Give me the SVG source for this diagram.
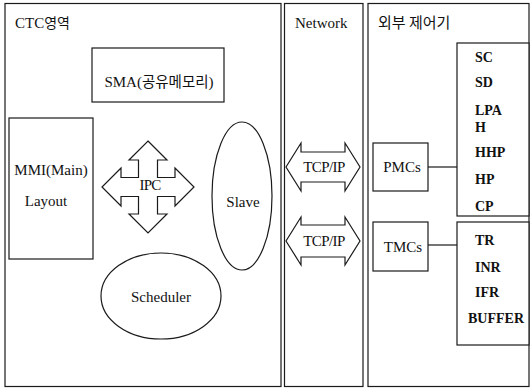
<svg xmlns="http://www.w3.org/2000/svg" width="531" height="389" viewBox="0 0 531 389">
<style>
.pn{fill:none;stroke:#1a1a1a;stroke-width:1.2}
.bx{fill:#fff;stroke:#1a1a1a;stroke-width:1.2}
.ln{fill:none;stroke:#1a1a1a;stroke-width:1.2}
text{font-family:'Liberation Serif','Noto Sans CJK KR',serif;font-size:15px;fill:#111}
.k{font-family:'Noto Sans CJK KR',sans-serif}
.c{text-anchor:middle}
.b{font-weight:bold;font-size:14px}
</style>
<rect width="531" height="389" fill="#fff"/>
<g id="panel-ctc">
<rect class="pn" x="5" y="3.5" width="276" height="383"/>
<text x="15" y="28">CTC<tspan class="k" font-size="14">영역</tspan></text>
</g>
<g id="panel-network">
<rect class="pn" x="284.5" y="3.5" width="78.5" height="383"/>
<text x="295" y="28">Network</text>
</g>
<g id="panel-external">
<rect class="pn" x="368" y="3.5" width="161" height="383"/>
<text class="k" x="378" y="28" font-size="14">외부 제어기</text>
</g>
<g id="sma">
<rect class="bx" x="92" y="48" width="132" height="54"/>
<text class="c" x="159" y="87">SMA(<tspan class="k" font-size="14.5">공유메모리</tspan>)</text>
</g>
<g id="mmi">
<rect class="bx" x="9" y="118" width="84" height="141"/>
<text class="c" x="51" y="175">MMI(Main)</text>
<text class="c" x="46" y="206">Layout</text>
</g>
<g id="ipc">
<polygon class="bx" points="148,141 167,160 157.5,160 157.5,177.5 175,177.5 175,168 194,187 175,206 175,196.5 157.5,196.5 157.5,214 167,214 148,233 129,214 138.5,214 138.5,196.5 121,196.5 121,206 102,187 121,168 121,177.5 138.5,177.5 138.5,160 129,160"/>
<text class="c" x="150" y="190" letter-spacing="-0.8">IPC</text>
</g>
<g id="slave">
<ellipse class="bx" cx="242" cy="196" rx="30" ry="74"/>
<text class="c" x="243" y="207">Slave</text>
</g>
<g id="scheduler">
<ellipse class="bx" cx="161" cy="296" rx="60" ry="43"/>
<text class="c" x="161" y="302">Scheduler</text>
</g>
<g id="tcpip-1">
<polygon class="bx" points="286,167 301,143 301,152 345,152 345,143 360,167 345,191 345,182 301,182 301,191"/>
<text class="c" x="324" y="172" font-size="14" letter-spacing="-0.6">TCP/IP</text>
</g>
<g id="tcpip-2">
<polygon class="bx" points="286,241 301,217 301,225 345,225 345,217 360,241 345,265 345,257 301,257 301,265"/>
<text class="c" x="324" y="246" font-size="14" letter-spacing="-0.6">TCP/IP</text>
</g>
<g id="connectors">
<line class="ln" x1="428" y1="167" x2="457" y2="167"/>
<line class="ln" x1="428" y1="245" x2="457" y2="245"/>
</g>
<g id="pmcs">
<rect class="bx" x="373" y="143" width="55" height="48"/>
<text class="c" x="402" y="172">PMCs</text>
</g>
<g id="tmcs">
<rect class="bx" x="373" y="222" width="55" height="49"/>
<text class="c" x="403" y="252">TMCs</text>
</g>
<g id="pm-list">
<rect class="bx" x="457" y="43" width="72" height="173"/>
<text class="b" x="475" y="62">SC</text>
<text class="b" x="475" y="87">SD</text>
<text class="b" x="475" y="115">LPA</text>
<text class="b" x="475" y="132">H</text>
<text class="b" x="475" y="157">HHP</text>
<text class="b" x="475" y="184">HP</text>
<text class="b" x="475" y="211">CP</text>
</g>
<g id="tm-list">
<rect class="bx" x="457" y="222" width="72" height="123"/>
<text class="b" x="475" y="245">TR</text>
<text class="b" x="475" y="272">INR</text>
<text class="b" x="475" y="297">IFR</text>
<text class="b" x="468" y="323">BUFFER</text>
</g>
</svg>
